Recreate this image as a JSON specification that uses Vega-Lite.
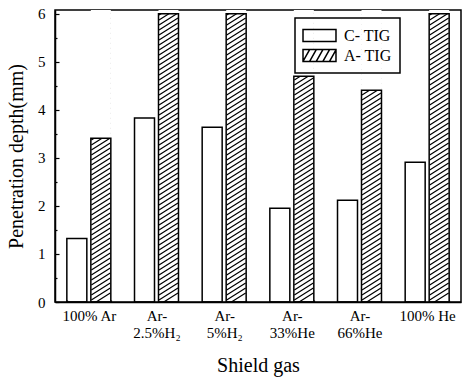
{
  "$schema": "https://vega.github.io/schema/vega-lite/v6.json",
  "width": 406,
  "height": 292,
  "autosize": {"type": "none"},
  "padding": {"left": 55, "top": 10, "right": 4, "bottom": 76},
  "background": "white",
  "config": {
    "font": "Liberation Serif",
    "view": {"stroke": "black", "strokeWidth": 1.5},
    "axis": {
      "domainColor": "black", "tickColor": "black", "labelColor": "black", "titleColor": "black",
      "labelFont": "Liberation Serif", "titleFont": "Liberation Serif", "titleFontWeight": "normal",
      "grid": false, "domainWidth": 1.5, "tickWidth": 1.2
    },
    "legend": {"strokeColor": "black", "strokeWidth": 1.5}
  },
  "data": {
    "values": [
      {"gas": "100% Ar", "series": "C-TIG", "value": 1.32},
      {"gas": "100% Ar", "series": "A-TIG", "value": 3.41},
      {"gas": "Ar-2.5%H₂", "series": "C-TIG", "value": 3.83},
      {"gas": "Ar-2.5%H₂", "series": "A-TIG", "value": 6.0},
      {"gas": "Ar-5%H₂", "series": "C-TIG", "value": 3.64},
      {"gas": "Ar-5%H₂", "series": "A-TIG", "value": 6.0},
      {"gas": "Ar-33%He", "series": "C-TIG", "value": 1.95},
      {"gas": "Ar-33%He", "series": "A-TIG", "value": 4.70},
      {"gas": "Ar-66%He", "series": "C-TIG", "value": 2.12},
      {"gas": "Ar-66%He", "series": "A-TIG", "value": 4.41},
      {"gas": "100% He", "series": "C-TIG", "value": 2.91},
      {"gas": "100% He", "series": "A-TIG", "value": 6.0}
    ]
  },
  "encoding": {
    "x": {
      "field": "gas", "type": "nominal", "sort": null,
      "scale": {"paddingInner": 0.35, "paddingOuter": 0.175},
      "axis": {
        "title": "Shield gas", "titleFont": "Liberation Serif", "titleFontSize": 20, "titlePadding": 15,
        "labelAngle": 0, "labelFontSize": 15, "labelLineHeight": 17, "labelPadding": 8,
        "labelExpr": "indexof(datum.label, 'Ar-') == 0 ? ['Ar-', substring(datum.label, 3)] : datum.label",
        "tickBand": "extent", "tickSize": -2
      }
    },
    "xOffset": {
      "field": "series", "type": "nominal",
      "scale": {"domain": ["C-TIG", "A-TIG"], "paddingInner": 0.167, "paddingOuter": 0}
    },
    "y": {
      "field": "value", "type": "quantitative",
      "scale": {"domain": [0, 6.08], "nice": false},
      "axis": {
        "title": "Penetration depth(mm)", "titleFont": "Liberation Serif", "titleFontSize": 20, "titlePadding": 11,
        "values": [0, 0.5, 1, 1.5, 2, 2.5, 3, 3.5, 4, 4.5, 5, 5.5, 6],
        "labelExpr": "datum.value % 1 === 0 ? format(datum.value, 'd') : ''",
        "tickSize": {"condition": {"test": "datum.value % 1 !== 0", "value": -2}, "value": -4},
        "labelFontSize": 15, "labelPadding": 14
      }
    }
  },
  "layer": [
    {
      "transform": [{"filter": "datum.series === 'A-TIG'"}],
      "mark": {
        "type": "point",
        "shape": "M-0.95,-14.6l1.9,-1.2m-1.9,1.7l1.9,-1.2m-1.9,1.7l1.9,-1.2m-1.9,1.7l1.9,-1.2m-1.9,1.7l1.9,-1.2m-1.9,1.7l1.9,-1.2m-1.9,1.7l1.9,-1.2m-1.9,1.7l1.9,-1.2m-1.9,1.7l1.9,-1.2m-1.9,1.7l1.9,-1.2m-1.9,1.7l1.9,-1.2m-1.9,1.7l1.9,-1.2m-1.9,1.7l1.9,-1.2m-1.9,1.7l1.9,-1.2m-1.9,1.7l1.9,-1.2m-1.9,1.7l1.9,-1.2m-1.9,1.7l1.9,-1.2m-1.9,1.7l1.9,-1.2m-1.9,1.7l1.9,-1.2m-1.9,1.7l1.9,-1.2m-1.9,1.7l1.9,-1.2m-1.9,1.7l1.9,-1.2m-1.9,1.7l1.9,-1.2m-1.9,1.7l1.9,-1.2m-1.9,1.7l1.9,-1.2m-1.9,1.7l1.9,-1.2m-1.9,1.7l1.9,-1.2m-1.9,1.7l1.9,-1.2m-1.9,1.7l1.9,-1.2m-1.9,1.7l1.9,-1.2m-1.9,1.7l1.9,-1.2m-1.9,1.7l1.9,-1.2m-1.9,1.7l1.9,-1.2m-1.9,1.7l1.9,-1.2m-1.9,1.7l1.9,-1.2m-1.9,1.7l1.9,-1.2m-1.9,1.7l1.9,-1.2m-1.9,1.7l1.9,-1.2m-1.9,1.7l1.9,-1.2m-1.9,1.7l1.9,-1.2m-1.9,1.7l1.9,-1.2m-1.9,1.7l1.9,-1.2m-1.9,1.7l1.9,-1.2m-1.9,1.7l1.9,-1.2m-1.9,1.7l1.9,-1.2m-1.9,1.7l1.9,-1.2m-1.9,1.7l1.9,-1.2m-1.9,1.7l1.9,-1.2m-1.9,1.7l1.9,-1.2m-1.9,1.7l1.9,-1.2m-1.9,1.7l1.9,-1.2m-1.9,1.7l1.9,-1.2m-1.9,1.7l1.9,-1.2m-1.9,1.7l1.9,-1.2m-1.9,1.7l1.9,-1.2m-1.9,1.7l1.9,-1.2m-1.9,1.7l1.9,-1.2m-1.9,1.7l1.9,-1.2m-1.9,1.7l1.9,-1.2m-1.9,1.7l1.9,-1.2",
        "size": 400, "filled": false, "stroke": "black", "strokeWidth": 1.2, "opacity": 1, "clip": true
      },
      "encoding": {"y": {"datum": 3.04, "type": "quantitative"}}
    },
    {
      "transform": [{"filter": "datum.series === 'A-TIG'"}],
      "mark": {"type": "bar", "fill": "white", "strokeWidth": 0},
      "encoding": {"y2": {"datum": 6.08}}
    },
    {
      "mark": {"type": "bar", "fill": "white", "fillOpacity": 0, "stroke": "black", "strokeWidth": 1.5}
    },
    {
      "mark": {"type": "point", "opacity": 1, "filled": false, "color": "black", "stroke": "black", "strokeWidth": 1.5, "clip": true},
      "encoding": {
        "y": {"datum": -20, "type": "quantitative"},
        "shape": {
          "field": "series", "type": "nominal",
          "scale": {
            "domain": ["C-TIG", "A-TIG"],
            "range": [
              "M-1.94,-0.7L1.94,-0.7L1.94,0.7L-1.94,0.7Z",
              "M-1.94,-0.7L1.94,-0.7L1.94,0.7L-1.94,0.7ZM-1.94,0.7L-1.16,-0.7M-1.16,0.7L-0.38,-0.7M-0.38,0.7L0.4,-0.7M0.4,0.7L1.18,-0.7M1.18,0.7L1.94,-0.66"
            ]
          },
          "legend": {
            "title": null, "orient": "none", "legendX": 240, "legendY": 8, "direction": "vertical",
            "symbolSize": 289, "symbolOffset": 7, "labelOffset": 15,
            "labelFontSize": 16, "labelFont": "Liberation Serif", "labelColor": "black",
            "padding": 8, "rowPadding": 1,
            "labelExpr": "replace(datum.label, '-', '- ')",
            "symbolStrokeWidth": 1.5, "symbolStrokeColor": "black", "symbolOpacity": 1,
            "encode": {
              "symbols": {"update": {"stroke": {"value": "black"}, "opacity": {"value": 1}, "strokeOpacity": {"value": 1}, "strokeWidth": {"value": 1.5}}}
            }
          }
        }
      }
    }
  ]
}
